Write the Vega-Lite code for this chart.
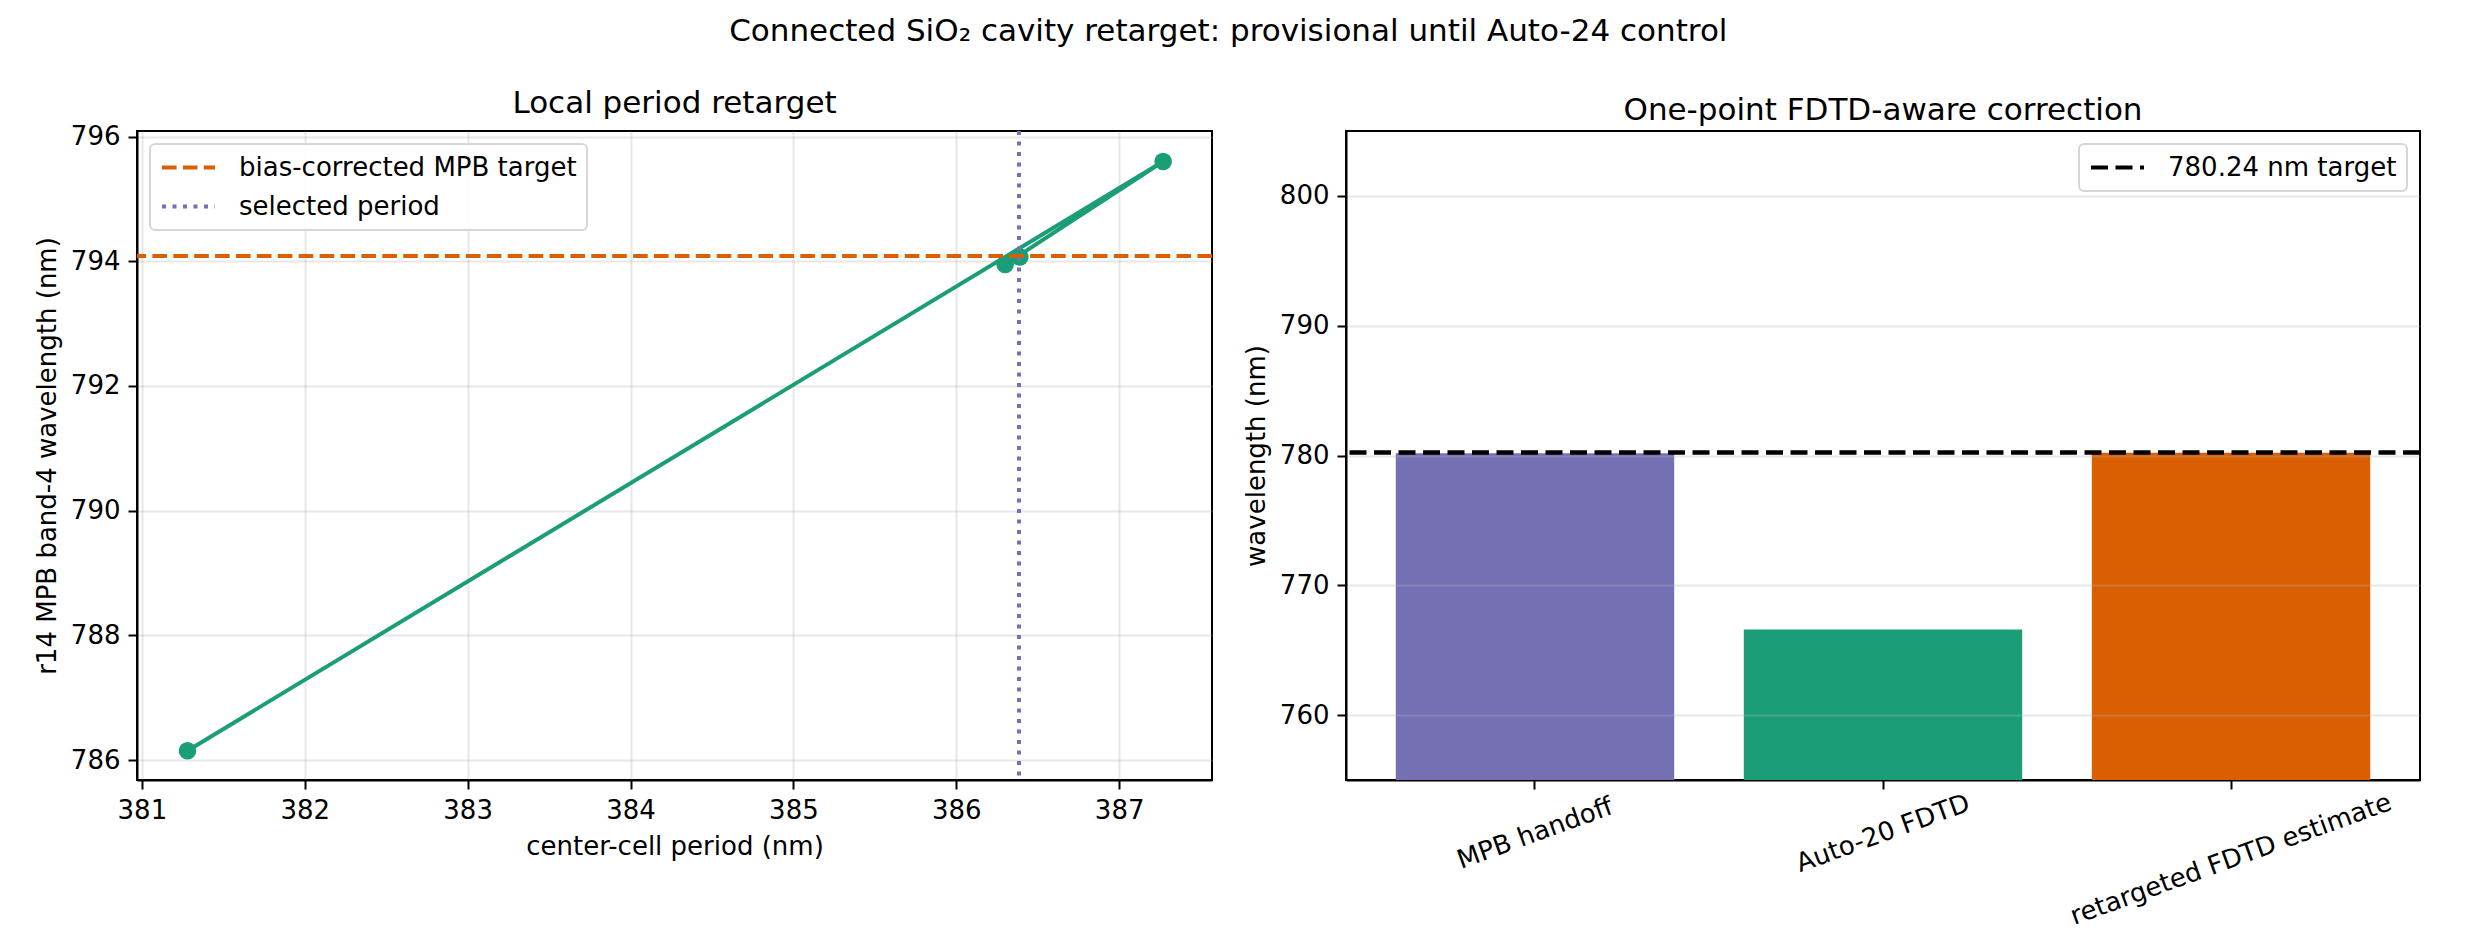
{
  "$schema": "https://vega.github.io/schema/vega-lite/v6.json",
  "background": "white",
  "padding": {"left": 33, "top": 15, "right": 0, "bottom": 0},
  "title": {
    "text": "Connected SiO₂ cavity retarget: provisional until Auto-24 control",
    "fontSize": 31,
    "font": "DejaVu Sans",
    "fontWeight": "normal",
    "color": "black",
    "anchor": "middle",
    "offset": 39
  },
  "datasets": {
    "scan": [
      {"iter": 1, "period": 381.28, "wavelength": 786.15},
      {"iter": 2, "period": 387.27, "wavelength": 795.6},
      {"iter": 3, "period": 386.3, "wavelength": 793.95},
      {"iter": 4, "period": 386.39, "wavelength": 794.07}
    ],
    "hline": [{"label": "bias-corrected MPB target", "wavelength": 794.085}],
    "vline": [{"label": "selected period", "period": 386.385}],
    "bars": [
      {"stage": "MPB handoff", "wavelength": 780.18},
      {"stage": "Auto-20 FDTD", "wavelength": 766.6},
      {"stage": "retargeted FDTD estimate", "wavelength": 780.21}
    ],
    "target": [{"label": "780.24 nm target", "wavelength": 780.24}]
  },
  "hconcat": [
    {
      "width": 1075,
      "height": 649,
      "title": {"text": "Local period retarget", "offset": 4},
      "layer": [
        {
          "data": {"name": "scan"},
          "mark": {"type": "line", "color": "#1b9e77", "strokeWidth": 4},
          "encoding": {
            "x": {
              "field": "period",
              "type": "quantitative",
              "scale": {"domain": [380.97, 387.57], "nice": false, "zero": false},
              "axis": {"title": "center-cell period (nm)", "values": [381, 382, 383, 384, 385, 386, 387], "format": "d", "grid": true}
            },
            "y": {
              "field": "wavelength",
              "type": "quantitative",
              "scale": {"domain": [785.68, 796.09], "nice": false, "zero": false},
              "axis": {"title": "r14 MPB band-4 wavelength (nm)", "values": [786, 788, 790, 792, 794, 796], "format": "d", "grid": true}
            },
            "order": {"field": "iter", "type": "quantitative"}
          }
        },
        {
          "data": {"name": "scan"},
          "mark": {"type": "point", "filled": true, "color": "#1b9e77", "size": 310, "opacity": 1},
          "encoding": {
            "x": {"field": "period", "type": "quantitative"},
            "y": {"field": "wavelength", "type": "quantitative"}
          }
        },
        {
          "data": {"name": "hline"},
          "mark": {"type": "rule", "strokeWidth": 4},
          "encoding": {
            "y": {"field": "wavelength", "type": "quantitative"},
            "stroke": {
              "field": "label",
              "type": "nominal",
              "scale": {"domain": ["bias-corrected MPB target", "selected period"], "range": ["#d95f02", "#7570b3"]},
              "legend": {"title": null, "orient": "top-left", "offset": 13}
            },
            "strokeDash": {
              "field": "label",
              "type": "nominal",
              "scale": {"domain": ["bias-corrected MPB target", "selected period"], "range": [[14.6, 6.3], [4, 6.5]]},
              "legend": {"title": null, "orient": "top-left", "offset": 13}
            }
          }
        },
        {
          "data": {"name": "vline"},
          "mark": {"type": "rule", "strokeWidth": 4},
          "encoding": {
            "x": {"field": "period", "type": "quantitative"},
            "stroke": {"field": "label", "type": "nominal"},
            "strokeDash": {"field": "label", "type": "nominal"}
          }
        }
      ]
    },
    {
      "width": 1074,
      "height": 649,
      "title": {"text": "One-point FDTD-aware correction", "offset": 4},
      "layer": [
        {
          "data": {"name": "bars"},
          "mark": {"type": "bar", "clip": true},
          "encoding": {
            "x": {
              "field": "stage",
              "type": "nominal",
              "sort": null,
              "scale": {"paddingInner": 0.2, "paddingOuter": 0.143},
              "axis": {
                "title": null,
                "labelAngle": -20,
                "labelAlign": "center",
                "labelBaseline": "middle",
                "labelLimit": 800,
                "labelPadding": {"condition": {"test": "datum.value == 'retargeted FDTD estimate'", "value": 70}, "value": 44},
                "grid": false
              }
            },
            "y": {
              "field": "wavelength",
              "type": "quantitative",
              "scale": {"domain": [755, 805], "nice": false, "zero": false},
              "axis": {"title": "wavelength (nm)", "values": [760, 770, 780, 790, 800], "format": "d", "grid": true, "zindex": 1}
            },
            "y2": {"datum": 755},
            "fill": {
              "field": "stage",
              "type": "nominal",
              "scale": {"domain": ["MPB handoff", "Auto-20 FDTD", "retargeted FDTD estimate"], "range": ["#7570b3", "#1b9e77", "#d95f02"]},
              "legend": null
            }
          }
        },
        {
          "data": {"name": "target"},
          "mark": {"type": "rule", "strokeWidth": 4.5},
          "encoding": {
            "y": {"field": "wavelength", "type": "quantitative"},
            "stroke": {
              "field": "label",
              "type": "nominal",
              "scale": {"domain": ["780.24 nm target"], "range": ["black"]},
              "legend": {"title": null, "orient": "top-right", "offset": 13}
            },
            "strokeDash": {
              "field": "label",
              "type": "nominal",
              "scale": {"domain": ["780.24 nm target"], "range": [[17, 7.5]]},
              "legend": {"title": null, "orient": "top-right", "offset": 13}
            }
          }
        }
      ]
    }
  ],
  "spacing": 27,
  "resolve": {
    "scale": {"x": "independent", "y": "independent", "stroke": "independent", "strokeDash": "independent", "fill": "independent"},
    "legend": {"stroke": "independent", "strokeDash": "independent"}
  },
  "config": {
    "font": "DejaVu Sans",
    "view": {"stroke": "black", "strokeWidth": 2},
    "title": {"fontSize": 31, "fontWeight": "normal", "font": "DejaVu Sans", "color": "black"},
    "axis": {
      "labelFont": "DejaVu Sans",
      "titleFont": "DejaVu Sans",
      "labelFontSize": 26,
      "titleFontSize": 26,
      "titleFontWeight": "normal",
      "labelColor": "black",
      "titleColor": "black",
      "domainColor": "black",
      "domainWidth": 2,
      "tickColor": "black",
      "tickWidth": 2,
      "tickSize": 9,
      "labelPadding": 8,
      "titlePadding": 10,
      "gridColor": "#b0b0b0",
      "gridOpacity": 0.3,
      "gridWidth": 2,
      "labelFlush": false,
      "labelOverlap": false,
      "labelLimit": 800
    },
    "legend": {
      "labelFont": "DejaVu Sans",
      "labelFontSize": 26,
      "labelColor": "black",
      "labelLimit": 800,
      "symbolType": "stroke",
      "symbolSize": 2809,
      "symbolStrokeWidth": 4,
      "labelOffset": 22,
      "clipHeight": 27,
      "rowPadding": 12,
      "padding": 10,
      "fillColor": "rgba(255,255,255,0.85)",
      "strokeColor": "#d6d6d6",
      "strokeWidth": 2,
      "cornerRadius": 5
    }
  }
}
